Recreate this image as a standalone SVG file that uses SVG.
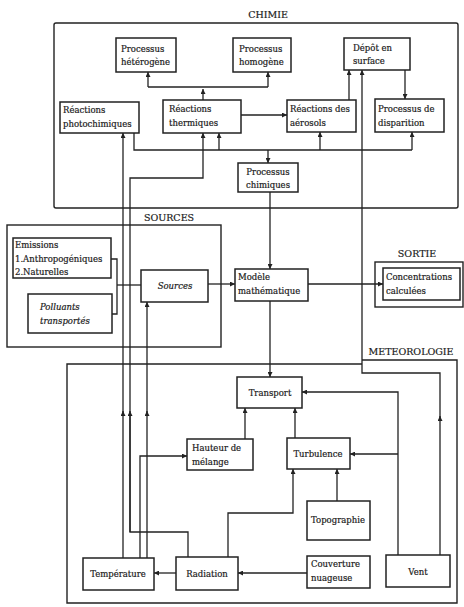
<svg xmlns="http://www.w3.org/2000/svg" width="464" height="607" viewBox="0 0 464 607">
<style>
  text { font-family: "DejaVu Serif", "Liberation Serif", serif; font-size: 8.5px; fill: #1a1a1a; stroke: #1a1a1a; stroke-width: 0.2; }
  .title { font-size: 9.5px; text-anchor: middle; }
  .c { text-anchor: middle; }
  .it { font-style: italic; }
  .box { fill: #fff; stroke: #222; stroke-width: 1.5; }
  .frame { fill: none; stroke: #222; stroke-width: 1.4; }
  .ln { fill: none; stroke: #222; stroke-width: 1.3; }
  .arw { fill: none; stroke: #222; stroke-width: 1.3; marker-end: url(#ah); }
</style>
<defs>
  <marker id="ah" viewBox="0 0 10 10" refX="10" refY="5" markerWidth="6" markerHeight="5" markerUnits="userSpaceOnUse" orient="auto">
    <path d="M0,0 L10,5 L0,10 z" fill="#222"/>
  </marker>
</defs>
<rect width="464" height="607" fill="#fff"/>

<!-- section frames -->
<g id="frames">
  <rect class="frame" x="54" y="23" width="404" height="185" rx="2"/>
  <text class="title" x="268" y="18">CHIMIE</text>
  <rect class="frame" x="7" y="225" width="214" height="122"/>
  <text class="title" x="169" y="221">SOURCES</text>
  <rect class="frame" x="375" y="262" width="88" height="45"/>
  <text class="title" x="417" y="257">SORTIE</text>
  <path class="frame" d="M362,364 H67 V603 H457 V360 H362"/>
  <text class="title" x="411" y="355">METEOROLOGIE</text>
</g>

<!-- connectors -->
<g id="connectors">
  <!-- chimie -->
  <path class="arw" d="M203,100 V89"/>
  <path class="ln" d="M148,87 H268"/>
  <path class="arw" d="M148,87 V72"/>
  <path class="arw" d="M268,87 V72"/>
  <path class="arw" d="M241,115 H287"/>
  <path class="arw" d="M349,100 V70"/>
  <path class="arw" d="M405,70 V99"/>
  <path class="ln" d="M134,133 V150 H412"/>
  <path class="arw" d="M412,150 V132"/>
  <path class="arw" d="M219,150 V133"/>
  <path class="arw" d="M320,150 V132"/>
  <path class="arw" d="M268,150 V163"/>
  <path class="arw" d="M270,192 V269"/>
  <!-- vent to depot -->
  <path class="arw" d="M440,555 V416"/>
  <path class="arw" d="M440,418 V373 H362 V70"/>
  <!-- temperature / radiation up to chimie and sources -->
  <path class="arw" d="M123,558 V411"/>
  <path class="arw" d="M123,413 V133"/>
  <path class="ln" d="M188,557 V532 H130 V413"/>
  <path class="arw" d="M130,532 V411"/>
  <path class="arw" d="M130,413 V178 H203 V133"/>
  <path class="arw" d="M147,558 V411"/>
  <path class="arw" d="M147,413 V302"/>
  <path class="arw" d="M140,558 V456 H187"/>
  <!-- sources -->
  <path class="ln" d="M111,259 H117 V314 H112"/>
  <path class="ln" d="M117,285 H141"/>
  <path class="arw" d="M208,284 H235"/>
  <path class="arw" d="M308,284 H383"/>
  <path class="arw" d="M270,301 V377"/>
  <!-- meteorologie -->
  <path class="arw" d="M245,439 V408"/>
  <path class="arw" d="M295,438 V408"/>
  <path class="arw" d="M398,555 V392 H302"/>
  <path class="arw" d="M398,454 H350"/>
  <path class="arw" d="M337,501 V469"/>
  <path class="arw" d="M228,557 V513 H293 V469"/>
  <path class="arw" d="M307,573 H238"/>
  <path class="arw" d="M176,573 H154"/>
</g>

<!-- chimie nodes -->
<g id="heterogene"><rect class="box" x="116" y="38" width="60" height="34"/><text x="121" y="52">Processus</text><text x="121" y="65">hétérogène</text></g>
<g id="homogene"><rect class="box" x="233" y="38" width="58" height="34"/><text x="239" y="52">Processus</text><text x="239" y="65">homogène</text></g>
<g id="depot"><rect class="box" x="344" y="38" width="66" height="32"/><text x="353" y="51">Dépôt en</text><text x="353" y="64">surface</text></g>
<g id="photochimiques"><rect class="box" x="60" y="102" width="79" height="31"/><text x="63" y="113">Réactions</text><text x="63" y="127">photochimiques</text></g>
<g id="thermiques"><rect class="box" x="163" y="100" width="78" height="33"/><text x="169" y="112">Réactions</text><text x="169" y="126">thermiques</text></g>
<g id="aerosols"><rect class="box" x="287" y="100" width="69" height="32"/><text x="290" y="112">Réactions des</text><text x="290" y="126">aérosols</text></g>
<g id="disparition"><rect class="box" x="375" y="99" width="69" height="33"/><text x="378" y="112">Processus de</text><text x="378" y="126">disparition</text></g>
<g id="chimiques"><rect class="box" x="238" y="163" width="60" height="29"/><text class="c" x="268" y="175">Processus</text><text class="c" x="268" y="188">chimiques</text></g>

<!-- sources nodes -->
<g id="emissions"><rect class="box" x="13" y="238" width="98" height="40"/><text x="15" y="248">Emissions</text><text x="15" y="262">1.Anthropogéniques</text><text x="15" y="275">2.Naturelles</text></g>
<g id="polluants"><rect class="box" x="28" y="294" width="84" height="39"/><text class="it" x="40" y="310">Polluants</text><text class="it" x="40" y="324">transportés</text></g>
<g id="sources"><rect class="box" x="141" y="270" width="67" height="32"/><text class="c it" x="175" y="289">Sources</text></g>

<!-- model and output -->
<g id="modele"><rect class="box" x="235" y="269" width="73" height="32"/><text x="238" y="280">Modèle</text><text x="238" y="294">mathématique</text></g>
<g id="concentrations"><rect class="box" x="383" y="268" width="77" height="32"/><text x="386" y="280">Concentrations</text><text x="386" y="294">calculées</text></g>

<!-- meteorologie nodes -->
<g id="transport"><rect class="box" x="237" y="377" width="65" height="31"/><text class="c" x="270" y="396">Transport</text></g>
<g id="hauteur"><rect class="box" x="187" y="439" width="66" height="31"/><text x="192" y="451">Hauteur de</text><text x="192" y="465">mélange</text></g>
<g id="turbulence"><rect class="box" x="287" y="438" width="63" height="31"/><text class="c" x="318" y="457">Turbulence</text></g>
<g id="topographie"><rect class="box" x="307" y="501" width="63" height="39"/><text class="c" x="338" y="523">Topographie</text></g>
<g id="temperature"><rect class="box" x="83" y="558" width="71" height="32"/><text class="c" x="118" y="577">Température</text></g>
<g id="radiation"><rect class="box" x="176" y="557" width="62" height="33"/><text class="c" x="207" y="577">Radiation</text></g>
<g id="couverture"><rect class="box" x="307" y="556" width="63" height="32"/><text x="311" y="567">Couverture</text><text x="311" y="581">nuageuse</text></g>
<g id="vent"><rect class="box" x="386" y="555" width="64" height="32"/><text class="c" x="418" y="575">Vent</text></g>
</svg>
